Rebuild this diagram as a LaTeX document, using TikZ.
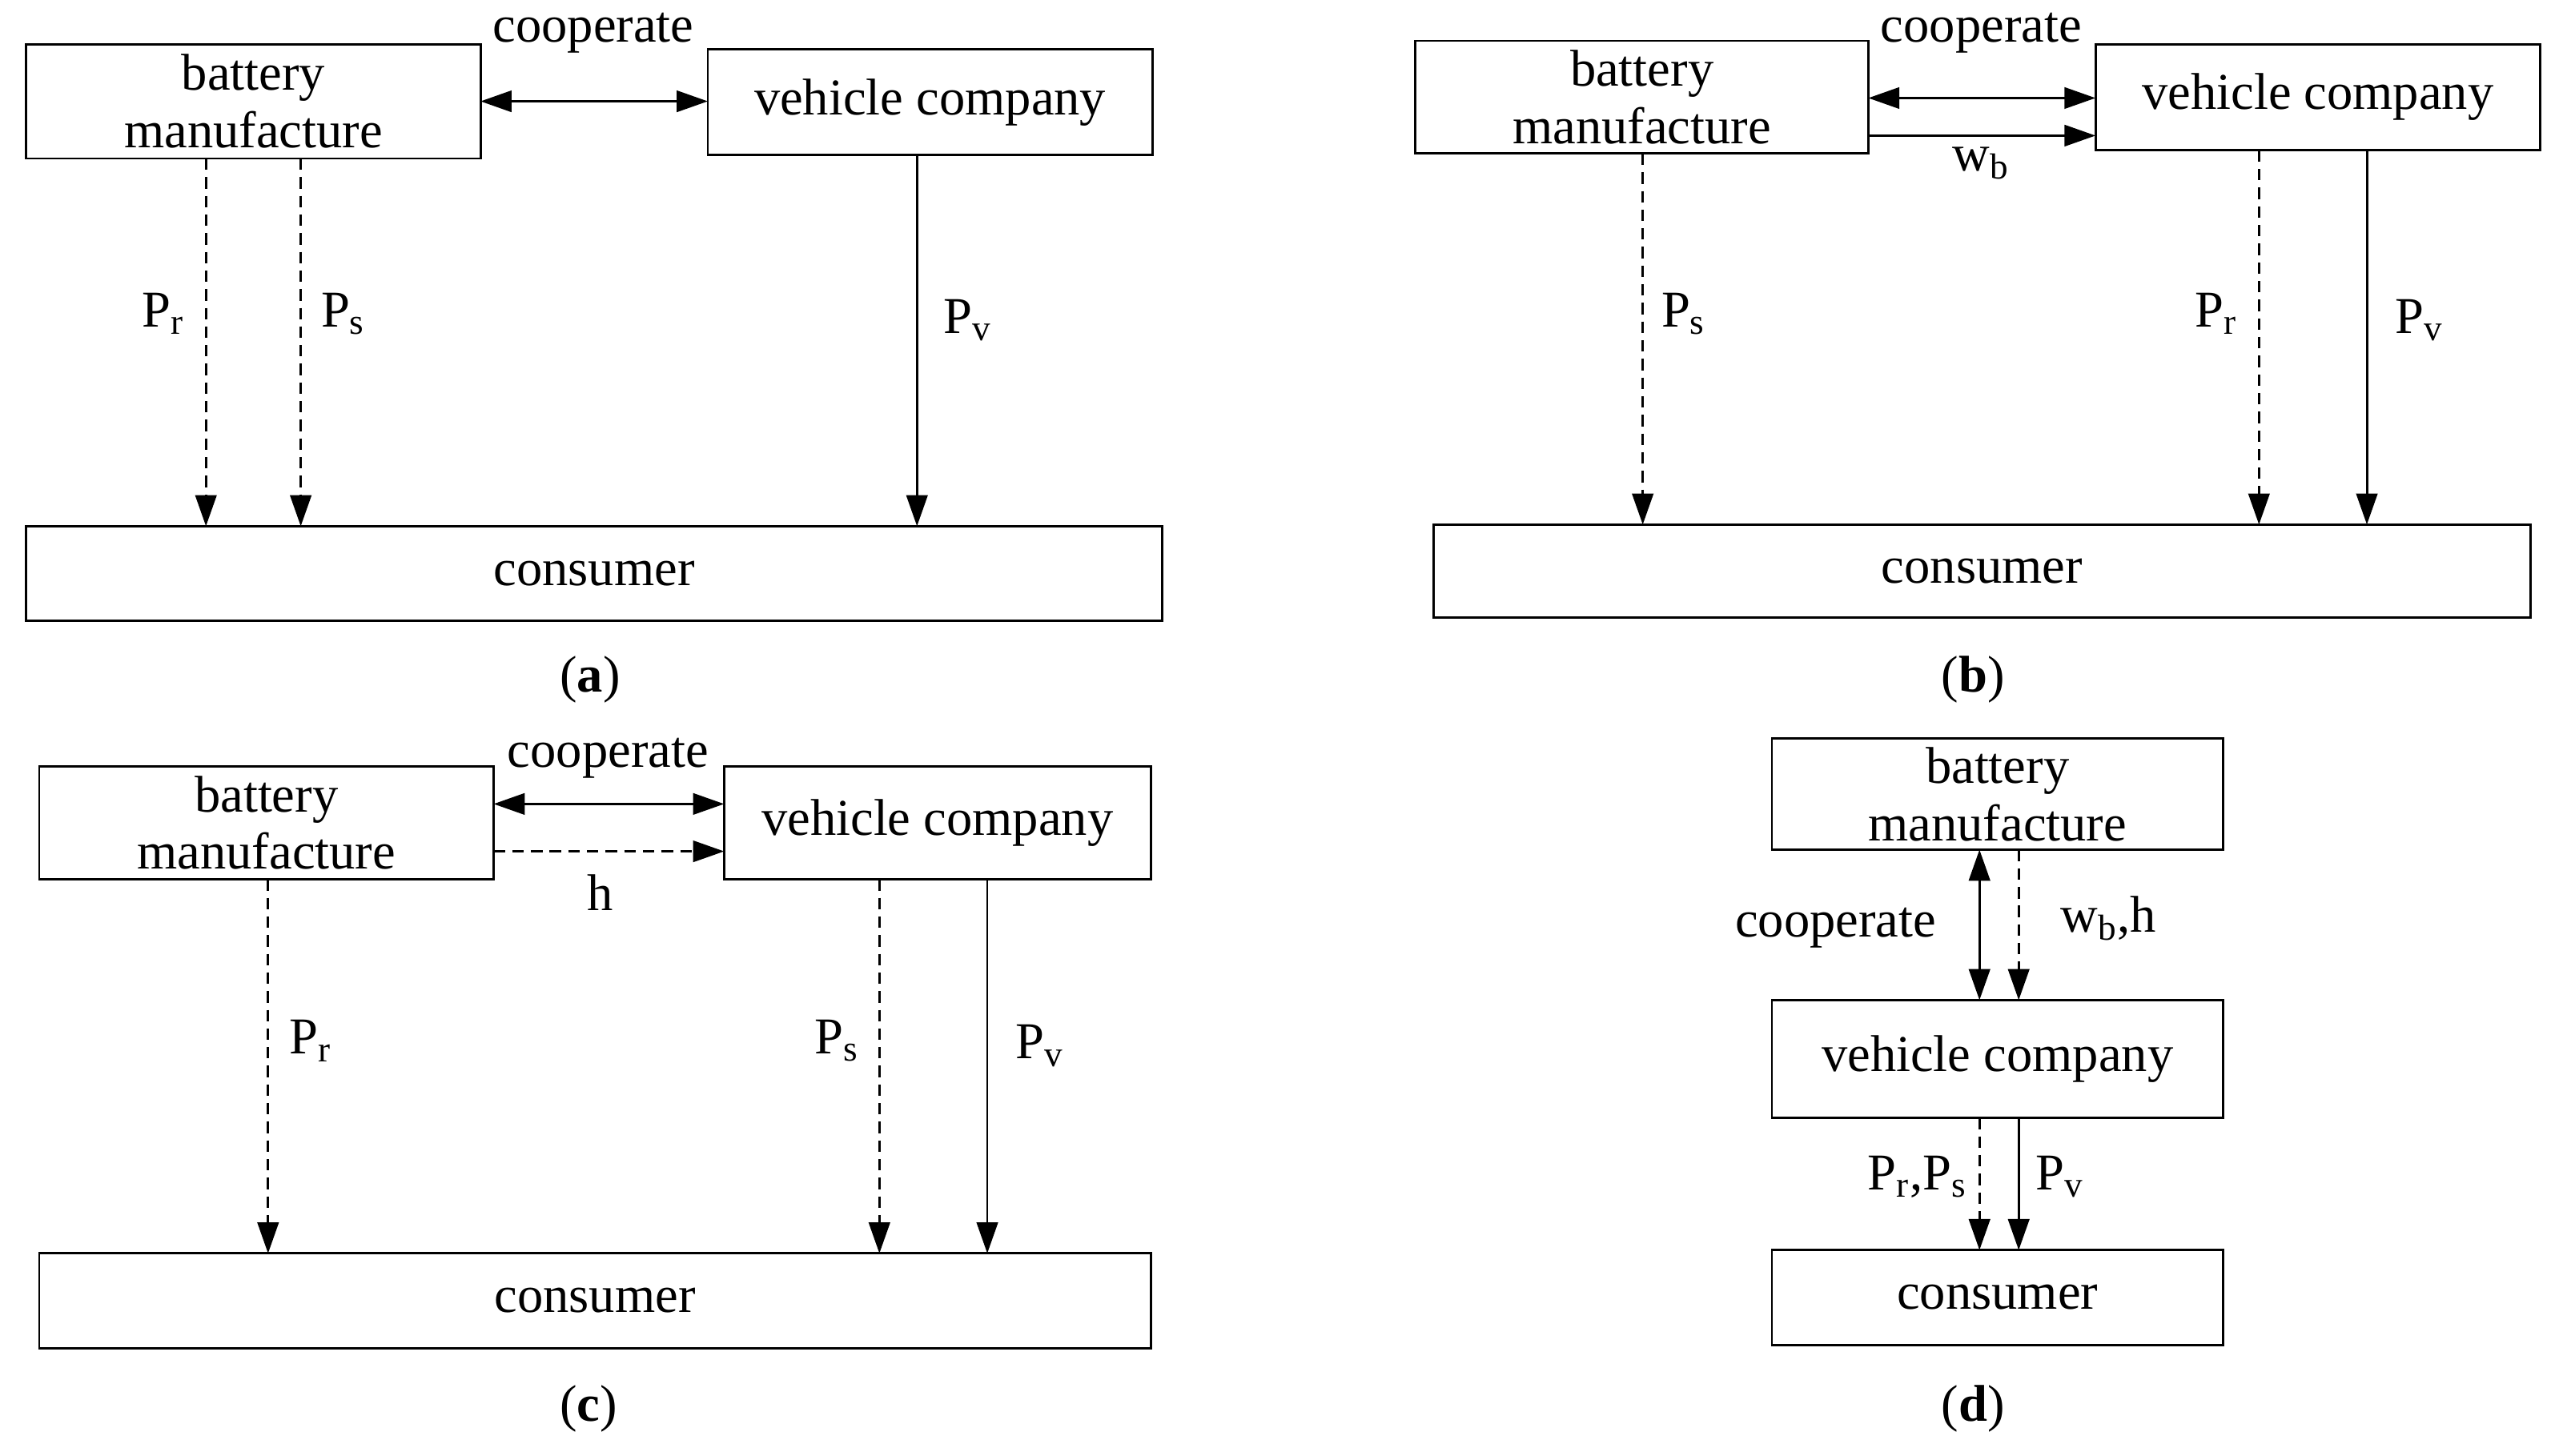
\documentclass[tikz,border=0pt]{standalone}
\usepackage{fontspec}
\setmainfont{Liberation Serif}
\usetikzlibrary{arrows.meta}
\begin{document}
\begin{tikzpicture}[x=0.02cm,y=-0.02cm,
 box/.style={draw,line width=0.8pt,inner sep=0,align=center,font=\fontsize{18}{20}\selectfont},
 lab/.style={font=\fontsize{18}{20}\selectfont,inner sep=1pt},
 ar/.style={line width=0.8pt,-{Triangle[length=0.38cm,width=0.26cm]}},
 dar/.style={line width=0.8pt,{Triangle[length=0.38cm,width=0.26cm]}-{Triangle[length=0.38cm,width=0.26cm]}},
 ds/.style={dash pattern=on 4pt off 2.5pt}]
\useasboundingbox (0,0) rectangle (1568,891);
% (a)
\draw[box] (16,27) rectangle (294,97) node[box,draw=none,midway] (ab) {battery\\manufacture};
\draw[box] (433,30) rectangle (705,95) node[box,draw=none,midway] (av) {vehicle company};
\draw[box] (16,322) rectangle (711,380) node[box,draw=none,midway] (ac) {consumer};
\node[lab] (acoop) at (363,20) {cooperate};
\draw[dar] (294,62) -- (433,62);
\draw[ar,ds] (126,97) -- (126,322);
\draw[ar,ds] (184,97) -- (184,322);
\draw[ar] (561,95) -- (561,322);
\node[lab] (apr) at (100,192) {P\textsubscript{r}};
\node[lab] (aps) at (210,192) {P\textsubscript{s}};
\node[lab] (apv) at (592,196) {P\textsubscript{v}};
\node[lab] (acap) at (361,416) {(\textbf{a})};
% (b)
\draw[box] (866,25) rectangle (1143,94) node[box,draw=none,midway] (bb) {battery\\manufacture};
\draw[box] (1282,27) rectangle (1554,92) node[box,draw=none,midway] (bv) {vehicle company};
\draw[box] (877,321) rectangle (1548,378) node[box,draw=none,midway] (bc) {consumer};
\node[lab] (bcoop) at (1212,20) {cooperate};
\draw[dar] (1143,60) -- (1282,60);
\draw[ar] (1143,83) -- (1282,83);
\node[lab] (bwb) at (1212,100) {w\textsubscript{b}};
\draw[ar,ds] (1005,94) -- (1005,321);
\draw[ar,ds] (1382,92) -- (1382,321);
\draw[ar] (1448,92) -- (1448,321);
\node[lab] (bps) at (1030,192) {P\textsubscript{s}};
\node[lab] (bpr) at (1356,192) {P\textsubscript{r}};
\node[lab] (bpv) at (1480,196) {P\textsubscript{v}};
\node[lab] (bcap) at (1207,416) {(\textbf{b})};
% (c)
\draw[box] (24,469) rectangle (302,538) node[box,draw=none,midway] (cb) {battery\\manufacture};
\draw[box] (443,469) rectangle (704,538) node[box,draw=none,midway] (cv) {vehicle company};
\draw[box] (24,767) rectangle (704,825) node[box,draw=none,midway] (cc) {consumer};
\node[lab] (ccoop) at (372,464) {cooperate};
\draw[dar] (302,492) -- (443,492);
\draw[ar,ds] (302,521) -- (443,521);
\node[lab] (ch) at (367,546) {h};
\draw[ar,ds] (164,538) -- (164,767);
\draw[ar,ds] (538,538) -- (538,767);
\draw[ar] (604,538) -- (604,767);
\node[lab] (cpr) at (190,637) {P\textsubscript{r}};
\node[lab] (cps) at (512,637) {P\textsubscript{s}};
\node[lab] (cpv) at (636,640) {P\textsubscript{v}};
\node[lab] (ccap) at (360,862) {(\textbf{c})};
% (d)
\draw[box] (1084,452) rectangle (1360,520) node[box,draw=none,midway] (db) {battery\\manufacture};
\draw[box] (1084,612) rectangle (1360,684) node[box,draw=none,midway] (dv) {vehicle company};
\draw[box] (1084,765) rectangle (1360,823) node[box,draw=none,midway] (dc) {consumer};
\draw[dar] (1211,520) -- (1211,612);
\draw[ar,ds] (1235,520) -- (1235,612);
\node[lab] (dcoop) at (1123,568) {cooperate};
\node[lab] (dwh) at (1290,562) {w\textsubscript{b},h};
\draw[ar,ds] (1211,684) -- (1211,765);
\draw[ar] (1235,684) -- (1235,765);
\node[lab] (dprs) at (1173,720) {P\textsubscript{r},P\textsubscript{s}};
\node[lab] (dpv) at (1260,720) {P\textsubscript{v}};
\node[lab] (dcap) at (1207,862) {(\textbf{d})};
\end{tikzpicture}
\end{document}
